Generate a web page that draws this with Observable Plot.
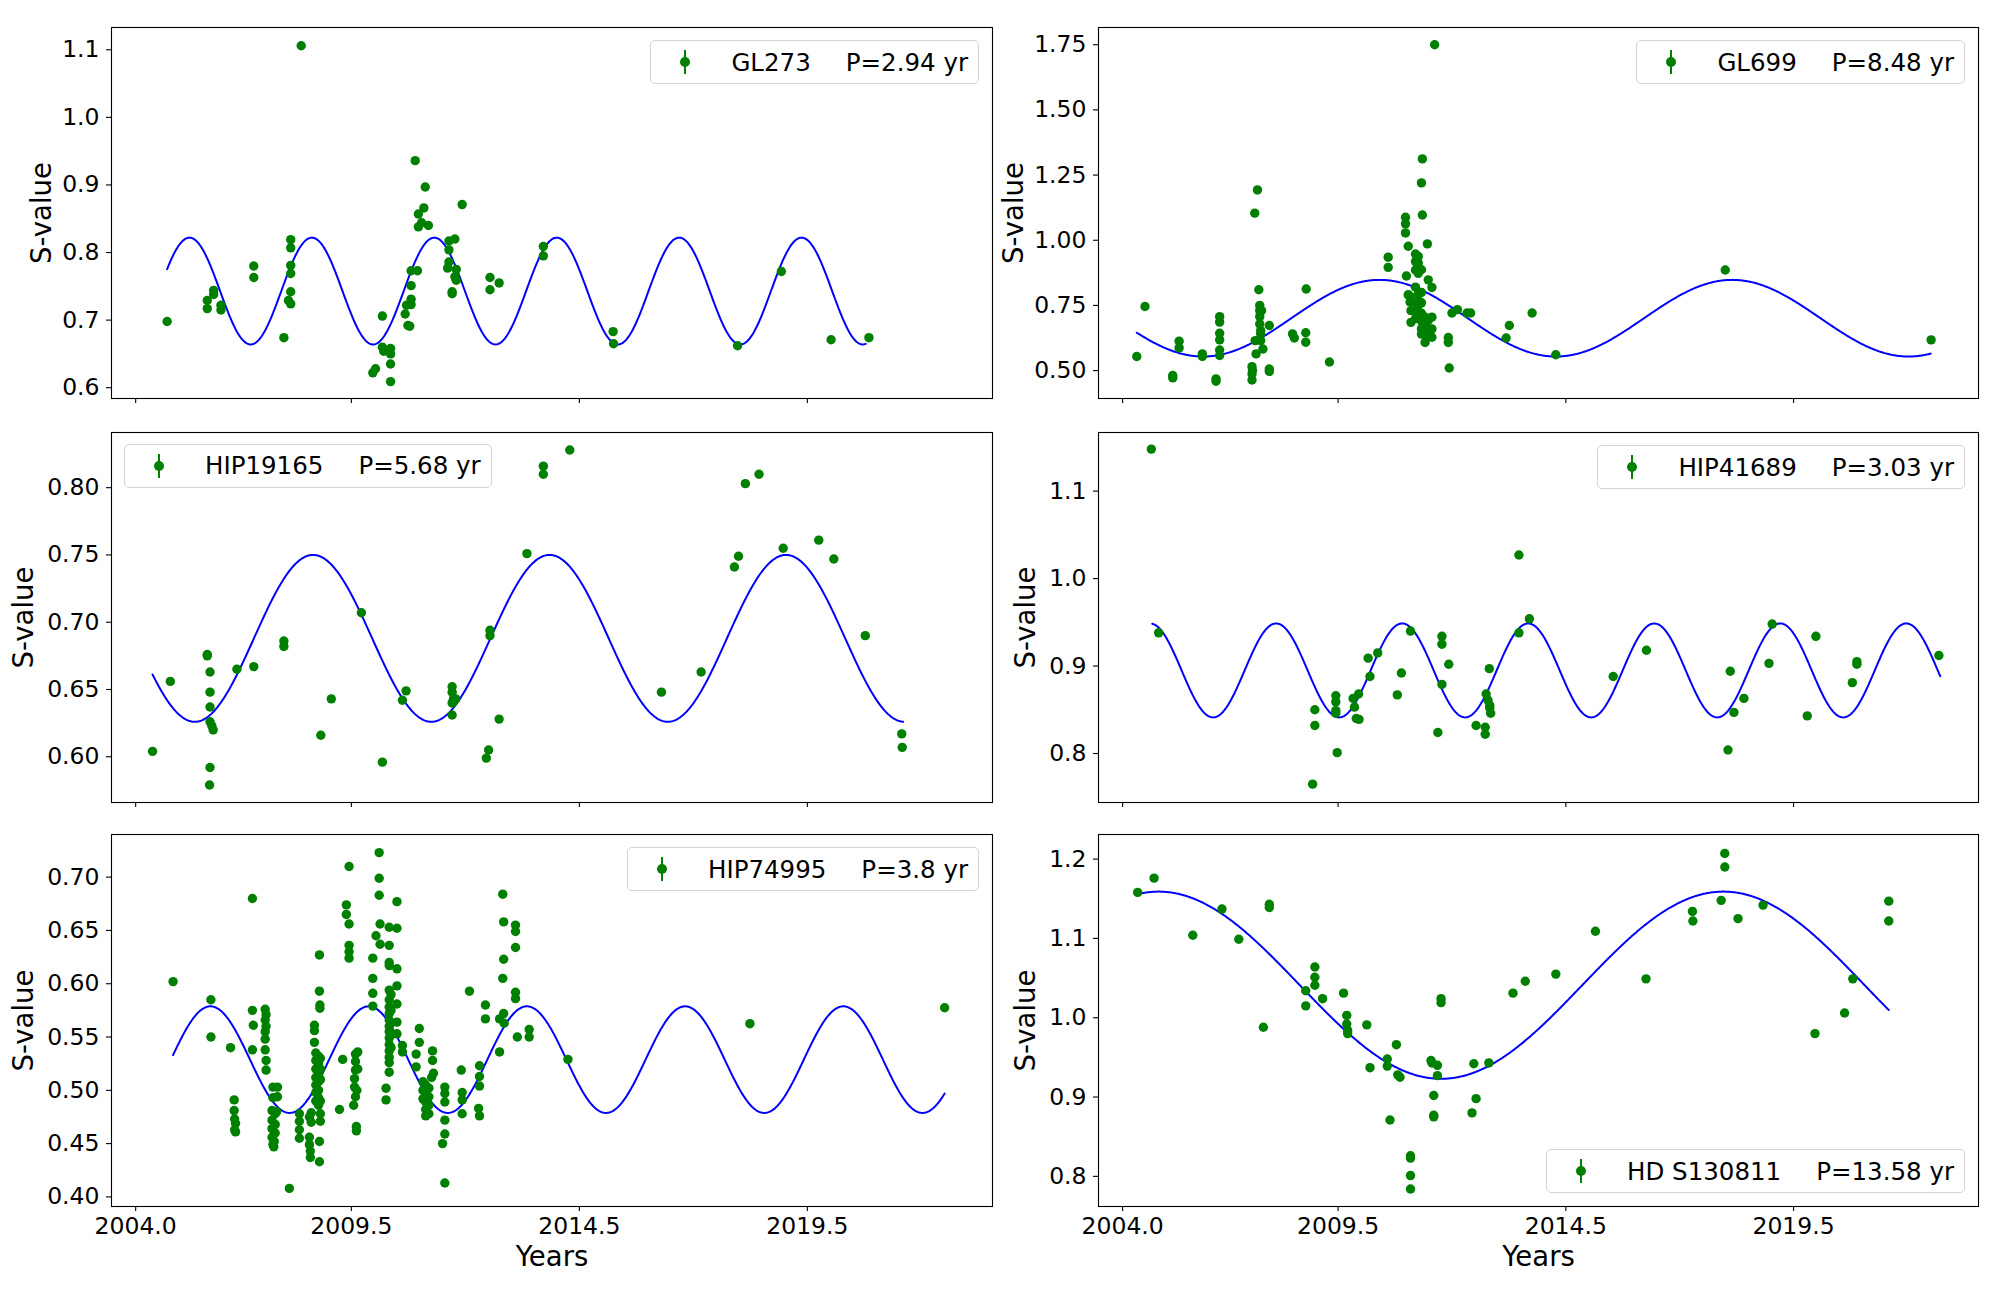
<!DOCTYPE html>
<html><head><meta charset="utf-8">
<script src="https://cdn.jsdelivr.net/npm/d3@7"></script>
<script src="https://cdn.jsdelivr.net/npm/@observablehq/plot@0.6"></script>
<style>
body{margin:0;background:#fff;font-family:"DejaVu Sans",sans-serif;}
#fig{position:relative;width:2000px;height:1300px;background:#fff;overflow:hidden}
.panel{position:absolute}
.panel svg{overflow:visible}
.legend{position:absolute;box-sizing:border-box;height:44px;border:1.3px solid #d4d4d4;border-radius:5px;background:rgba(255,255,255,0.8);display:flex;align-items:center;font-size:24.5px;white-space:nowrap;color:#000;font-family:"DejaVu Sans",sans-serif}
</style></head><body><div id="fig"></div><script>
// ---- data: [time (axis years), S-value] ----
const gl273 = [[2005.46,0.698],[2006.34,0.729],[2006.34,0.717],[2006.48,0.744],[2006.48,0.738],[2006.64,0.722],[2006.64,0.715],[2007.36,0.780],[2007.36,0.763],[2008.02,0.674],[2008.17,0.819],[2008.17,0.807],[2008.17,0.781],[2008.17,0.769],[2008.17,0.742],[2008.17,0.724],[2008.12,0.729],[2008.40,1.106],[2009.97,0.622],[2010.03,0.628],[2010.18,0.706],[2010.18,0.660],[2010.21,0.654],[2010.36,0.658],[2010.36,0.650],[2010.36,0.635],[2010.36,0.609],[2010.68,0.709],[2010.71,0.722],[2010.74,0.692],[2010.78,0.691],[2010.81,0.723],[2010.81,0.731],[2010.81,0.751],[2010.81,0.773],[2010.95,0.773],[2010.90,0.936],[2010.97,0.857],[2010.97,0.838],[2011.04,0.844],[2011.09,0.866],[2011.12,0.897],[2011.19,0.840],[2011.64,0.817],[2011.64,0.804],[2011.64,0.786],[2011.61,0.777],[2011.71,0.742],[2011.71,0.739],[2011.77,0.820],[2011.77,0.764],[2011.80,0.775],[2011.80,0.759],[2011.93,0.871],[2012.54,0.763],[2012.54,0.745],[2012.74,0.755],[2013.71,0.809],[2013.71,0.795],[2015.24,0.683],[2015.25,0.665],[2017.97,0.662],[2018.93,0.772],[2020.02,0.671],[2020.85,0.674]];

const gl699 = [[2005.08,0.554],[2005.26,0.746],[2005.87,0.481],[2005.87,0.472],[2006.01,0.613],[2006.01,0.587],[2006.52,0.564],[2006.52,0.554],[2006.82,0.468],[2006.82,0.459],[2006.90,0.707],[2006.90,0.686],[2006.90,0.643],[2006.90,0.618],[2006.90,0.579],[2006.90,0.558],[2007.61,0.515],[2007.61,0.487],[2007.61,0.464],[2007.62,0.500],[2007.67,1.104],[2007.73,1.193],[2007.70,0.564],[2007.68,0.615],[2007.76,0.810],[2007.78,0.750],[2007.78,0.730],[2007.78,0.707],[2007.78,0.679],[2007.80,0.654],[2007.80,0.641],[2007.80,0.615],[2007.82,0.730],[2007.85,0.583],[2007.99,0.673],[2007.99,0.506],[2007.99,0.497],[2008.50,0.641],[2008.54,0.625],[2008.79,0.645],[2008.79,0.609],[2008.80,0.813],[2009.31,0.533],[2010.60,0.935],[2010.60,0.896],[2010.98,1.088],[2010.98,1.063],[2010.98,1.028],[2011.04,0.977],[2011.04,0.791],[2011.00,0.863],[2011.05,0.789],[2011.08,0.784],[2011.08,0.763],[2011.10,0.685],[2011.10,0.730],[2011.20,0.947],[2011.20,0.918],[2011.20,0.886],[2011.20,0.820],[2011.20,0.761],[2011.20,0.730],[2011.20,0.700],[2011.26,0.938],[2011.26,0.913],[2011.26,0.873],[2011.26,0.794],[2011.26,0.770],[2011.26,0.750],[2011.26,0.720],[2011.33,1.220],[2011.33,0.887],[2011.33,0.800],[2011.33,0.760],[2011.33,0.720],[2011.33,0.690],[2011.33,0.660],[2011.33,0.640],[2011.35,1.312],[2011.35,1.097],[2011.41,0.608],[2011.41,0.650],[2011.41,0.680],[2011.41,0.705],[2011.46,0.986],[2011.46,0.700],[2011.46,0.640],[2011.46,0.630],[2011.48,0.848],[2011.48,0.692],[2011.48,0.637],[2011.56,0.819],[2011.56,0.705],[2011.56,0.628],[2011.56,0.660],[2011.62,1.750],[2011.92,0.608],[2011.92,0.627],[2011.94,0.510],[2012.00,0.721],[2012.12,0.734],[2012.33,0.721],[2012.41,0.721],[2013.19,0.625],[2013.26,0.673],[2013.76,0.721],[2014.28,0.561],[2018.00,0.886],[2022.52,0.618]];

const hip19165 = [[2005.14,0.604],[2005.53,0.656],[2006.34,0.676],[2006.34,0.675],[2006.40,0.663],[2006.40,0.648],[2006.40,0.637],[2006.40,0.626],[2006.44,0.623],[2006.47,0.620],[2006.40,0.592],[2006.39,0.579],[2006.99,0.665],[2007.36,0.667],[2008.02,0.686],[2008.02,0.682],[2008.83,0.616],[2009.06,0.643],[2009.72,0.707],[2010.18,0.596],[2010.62,0.642],[2010.70,0.649],[2011.71,0.652],[2011.71,0.648],[2011.74,0.643],[2011.71,0.640],[2011.74,0.641],[2011.79,0.643],[2011.71,0.631],[2012.46,0.599],[2012.51,0.605],[2012.54,0.694],[2012.54,0.690],[2012.74,0.628],[2013.35,0.751],[2013.71,0.816],[2013.71,0.810],[2014.29,0.828],[2016.30,0.648],[2017.17,0.663],[2017.90,0.741],[2017.99,0.749],[2018.14,0.803],[2018.44,0.810],[2018.97,0.755],[2019.75,0.761],[2020.08,0.747],[2020.77,0.690],[2021.57,0.617],[2021.58,0.607]];

const hip41689 = [[2005.40,1.148],[2005.56,0.938],[2008.94,0.765],[2008.99,0.850],[2008.99,0.832],[2009.45,0.866],[2009.45,0.859],[2009.45,0.849],[2009.45,0.846],[2009.48,0.801],[2009.83,0.863],[2009.86,0.853],[2009.90,0.840],[2009.95,0.868],[2009.96,0.839],[2010.16,0.909],[2010.20,0.888],[2010.37,0.915],[2010.80,0.867],[2010.89,0.892],[2011.09,0.940],[2011.69,0.824],[2011.78,0.934],[2011.78,0.925],[2011.78,0.879],[2011.93,0.902],[2012.53,0.832],[2012.73,0.830],[2012.73,0.822],[2012.75,0.868],[2012.79,0.861],[2012.83,0.852],[2012.83,0.855],[2012.82,0.897],[2012.85,0.846],[2013.47,1.027],[2013.47,0.938],[2013.70,0.954],[2015.54,0.888],[2016.27,0.918],[2018.06,0.804],[2018.11,0.894],[2018.19,0.847],[2018.41,0.863],[2018.96,0.903],[2019.03,0.948],[2019.80,0.843],[2019.99,0.934],[2020.79,0.881],[2020.89,0.905],[2020.89,0.902],[2022.69,0.912]];

const hip74995 = [[2005.59,0.602],[2006.42,0.585],[2006.42,0.550],[2006.85,0.540],[2006.93,0.491],[2006.93,0.481],[2006.94,0.473],[2006.94,0.463],[2006.96,0.469],[2006.96,0.461],[2007.33,0.680],[2007.33,0.575],[2007.35,0.561],[2007.33,0.538],[2007.61,0.576],[2007.61,0.566],[2007.61,0.555],[2007.61,0.548],[2007.61,0.538],[2007.63,0.528],[2007.63,0.519],[2007.63,0.571],[2007.63,0.560],[2007.78,0.503],[2007.78,0.493],[2007.76,0.481],[2007.76,0.472],[2007.76,0.464],[2007.76,0.456],[2007.78,0.449],[2007.83,0.478],[2007.83,0.468],[2007.83,0.460],[2007.81,0.452],[2007.80,0.447],[2007.88,0.503],[2007.88,0.494],[2007.86,0.480],[2008.14,0.408],[2008.36,0.478],[2008.36,0.471],[2008.36,0.463],[2008.36,0.455],[2008.58,0.475],[2008.58,0.456],[2008.58,0.449],[2008.60,0.443],[2008.60,0.437],[2008.62,0.479],[2008.62,0.470],[2008.69,0.561],[2008.69,0.556],[2008.69,0.545],[2008.72,0.535],[2008.72,0.528],[2008.72,0.520],[2008.72,0.512],[2008.72,0.505],[2008.72,0.498],[2008.72,0.490],[2008.78,0.532],[2008.78,0.525],[2008.78,0.515],[2008.78,0.508],[2008.78,0.500],[2008.78,0.493],[2008.78,0.486],[2008.80,0.627],[2008.80,0.593],[2008.81,0.580],[2008.81,0.577],[2008.82,0.530],[2008.82,0.520],[2008.82,0.510],[2008.82,0.490],[2008.82,0.478],[2008.82,0.471],[2008.80,0.452],[2008.80,0.433],[2009.24,0.482],[2009.31,0.529],[2009.39,0.674],[2009.39,0.665],[2009.45,0.656],[2009.45,0.710],[2009.45,0.636],[2009.45,0.630],[2009.45,0.624],[2009.59,0.534],[2009.59,0.527],[2009.59,0.519],[2009.57,0.511],[2009.57,0.503],[2009.59,0.494],[2009.55,0.486],[2009.61,0.466],[2009.61,0.462],[2009.64,0.536],[2009.64,0.520],[2009.62,0.500],[2009.97,0.624],[2009.97,0.605],[2009.97,0.591],[2009.97,0.579],[2010.04,0.645],[2010.11,0.723],[2010.11,0.699],[2010.11,0.683],[2010.13,0.656],[2010.13,0.637],[2010.26,0.502],[2010.26,0.491],[2010.33,0.653],[2010.33,0.636],[2010.33,0.620],[2010.33,0.617],[2010.33,0.594],[2010.33,0.585],[2010.33,0.578],[2010.33,0.572],[2010.33,0.566],[2010.33,0.560],[2010.33,0.555],[2010.33,0.549],[2010.33,0.543],[2010.33,0.537],[2010.33,0.531],[2010.33,0.526],[2010.33,0.517],[2010.37,0.590],[2010.37,0.575],[2010.37,0.563],[2010.37,0.552],[2010.37,0.540],[2010.50,0.677],[2010.50,0.652],[2010.50,0.614],[2010.50,0.598],[2010.50,0.581],[2010.50,0.564],[2010.50,0.553],[2010.62,0.542],[2010.62,0.536],[2010.99,0.558],[2010.99,0.545],[2010.92,0.534],[2010.92,0.522],[2011.07,0.508],[2011.07,0.500],[2011.07,0.492],[2011.13,0.505],[2011.13,0.497],[2011.13,0.489],[2011.13,0.482],[2011.13,0.476],[2011.20,0.502],[2011.20,0.494],[2011.20,0.486],[2011.20,0.478],[2011.28,0.537],[2011.28,0.528],[2011.30,0.516],[2011.26,0.512],[2011.50,0.450],[2011.55,0.413],[2011.55,0.503],[2011.55,0.497],[2011.55,0.489],[2011.55,0.472],[2011.55,0.459],[2011.91,0.519],[2011.93,0.498],[2011.93,0.491],[2011.93,0.478],[2012.09,0.593],[2012.31,0.523],[2012.31,0.513],[2012.31,0.504],[2012.29,0.483],[2012.31,0.476],[2012.44,0.580],[2012.44,0.567],[2012.75,0.536],[2012.75,0.567],[2012.82,0.684],[2012.84,0.658],[2012.84,0.623],[2012.82,0.605],[2012.84,0.572],[2012.85,0.563],[2013.10,0.655],[2013.10,0.649],[2013.10,0.634],[2013.10,0.592],[2013.10,0.586],[2013.14,0.550],[2013.40,0.557],[2013.40,0.550],[2014.25,0.529],[2018.24,0.5625],[2022.51,0.5775]];

const hds130811 = [[2005.10,1.158],[2005.46,1.176],[2006.31,1.104],[2006.95,1.137],[2007.32,1.099],[2007.86,0.988],[2007.99,1.143],[2007.99,1.139],[2008.79,1.034],[2008.79,1.015],[2008.99,1.064],[2008.99,1.051],[2008.99,1.041],[2009.16,1.024],[2009.62,1.031],[2009.69,1.003],[2009.69,0.992],[2009.71,0.984],[2009.71,0.980],[2010.13,0.991],[2010.20,0.937],[2010.58,0.948],[2010.58,0.939],[2010.64,0.871],[2010.78,0.966],[2010.81,0.928],[2010.86,0.925],[2011.09,0.826],[2011.09,0.823],[2011.09,0.801],[2011.09,0.784],[2011.54,0.946],[2011.56,0.943],[2011.60,0.902],[2011.60,0.877],[2011.60,0.875],[2011.68,0.940],[2011.68,0.927],[2011.76,1.024],[2011.76,1.019],[2012.44,0.880],[2012.48,0.942],[2012.53,0.898],[2012.81,0.943],[2013.34,1.031],[2013.61,1.046],[2014.28,1.055],[2015.15,1.109],[2016.26,1.049],[2017.28,1.134],[2017.29,1.122],[2017.91,1.148],[2017.99,1.207],[2017.99,1.190],[2018.28,1.125],[2018.83,1.142],[2019.97,0.980],[2020.62,1.006],[2020.80,1.049],[2021.59,1.147],[2021.59,1.122]];

// ---- sinusoidal fits: [period (yr), mean, amplitude, epoch of a maximum, first t, last t] ----
const fitGL273    = [2.94, 0.743, 0.079, 2005.95, 2005.46, 2020.78];
const fitGL699    = [8.48, 0.701, 0.147, 2010.41, 2005.08, 2022.51];
const fitHIP19165 = [5.68, 0.688, 0.062, 2008.66, 2005.14, 2021.60];
const fitHIP41689 = [3.03, 0.895, 0.0537, 2008.14, 2005.42, 2022.72];
const fitHIP74995 = [3.8, 0.5288, 0.050, 2006.41, 2005.59, 2022.51];
const fitHDS130811= [13.58, 1.041, 0.118, 2005.56, 2005.09, 2021.59];

// ---- axis ----
const xDomain = [2004.24, 2023.56];
const xTickPos = [2004.77, 2009.5, 2014.5, 2019.5];
const xTickLabels = ["2004.0", "2009.5", "2014.5", "2019.5"];
const DAYS_PER_AXIS_UNIT = 400; // labelled axis advances 5 per 2000 days

const names = ["GL273", "GL699", "HIP19165", "HIP41689", "HIP74995", "HD S130811"];
const periodLabels = ["2.94", "8.48", "5.68", "3.03", "3.8", "13.58"];
const series = [gl273, gl699, hip19165, hip41689, hip74995, hds130811];
const fits = [fitGL273, fitGL699, fitHIP19165, fitHIP41689, fitHIP74995, fitHDS130811];
const yDomains = [[0.584,1.133],[0.393,1.816],[0.566,0.841],[0.744,1.167],[0.391,0.740],[0.762,1.231]];
const yTicks = [[0.6,0.7,0.8,0.9,1.0,1.1],[0.5,0.75,1.0,1.25,1.5,1.75],[0.60,0.65,0.70,0.75,0.80],[0.8,0.9,1.0,1.1],[0.40,0.45,0.50,0.55,0.60,0.65,0.70],[0.8,0.9,1.0,1.1,1.2]];
const yFormats = [".1f",".2f",".2f",".1f",".2f",".1f"];
const legendCorner = ["top-right","top-right","top-left","top-right","top-right","bottom-right"];
const ylabelDx = [-69,-84,-87,-72,-87,-72];

const rows = [{top:0,h:420,mt:27,mb:22},{top:420,h:410,mt:12,mb:28},{top:830,h:470,mt:4,mb:94}];
const cols = [{left:0,w:1000,ml:111,mr:8},{left:1000,w:1000,ml:98,mr:22}];

const fig = document.getElementById("fig");

function fitCurve(f) {
  const [P, mean, amp, t0, ta, tb] = f;
  const Pax = P * 365.25 / DAYS_PER_AXIS_UNIT;
  const ts = d3.range(ta, tb, 0.02).concat([tb]);
  return ts.map(t => ({t, s: mean + amp * Math.cos(2 * Math.PI * (t - t0) / Pax)}));
}

for (let i = 0; i < 6; i++) {
  const r = rows[Math.floor(i / 2)], c = cols[i % 2];
  const bottom = Math.floor(i / 2) === 2;
  const plot = Plot.plot({
    width: c.w, height: r.h,
    marginTop: r.mt, marginBottom: r.mb, marginLeft: c.ml, marginRight: c.mr,
    x: {domain: xDomain},
    y: {domain: yDomains[i]},
    style: {fontFamily: "DejaVu Sans, sans-serif", fontSize: "23.5px", color: "black", background: "transparent", overflow: "visible"},
    marks: [
      Plot.axisX({ticks: xTickPos, tickFormat: d => bottom ? xTickLabels[xTickPos.indexOf(d)] : "", tickSize: 5, tickPadding: 6, label: null, fontSize: 23.5, strokeWidth: 1.1}),
      Plot.axisY({ticks: yTicks[i], tickFormat: d3.format(yFormats[i]), tickSize: 5, tickPadding: 7, label: null, fontSize: 23.5, strokeWidth: 1.1}),
      Plot.line(fitCurve(fits[i]), {x: "t", y: "s", stroke: "#0000ff", strokeWidth: 2}),
      Plot.dot(series[i], {x: d => d[0], y: d => d[1], r: 4.7, fill: "#008000"}),
      Plot.frame({stroke: "black", strokeWidth: 1.1}),
      Plot.text(["S-value"], {frameAnchor: "left", dx: ylabelDx[i], rotate: -90, textAnchor: "middle", lineAnchor: "middle", fontSize: 27.5}),
      bottom ? Plot.text(["Years"], {frameAnchor: "bottom", dy: 51, textAnchor: "middle", lineAnchor: "middle", fontSize: 27.5}) : null
    ]
  });
  const wrap = document.createElement("div");
  wrap.className = "panel";
  wrap.style.left = c.left + "px";
  wrap.style.top = r.top + "px";
  wrap.appendChild(plot);
  fig.appendChild(wrap);

  // legend
  const fx0 = c.left + c.ml, fx1 = c.left + c.w - c.mr;
  const fy0 = r.top + r.mt, fy1 = r.top + r.h - r.mb;
  const lg = document.createElement("div");
  lg.className = "legend";
  const corner = legendCorner[i];
  if (corner === "top-right") { lg.style.right = (2000 - fx1 + 13) + "px"; lg.style.top = (fy0 + 13) + "px"; }
  if (corner === "top-left") { lg.style.left = (fx0 + 13) + "px"; lg.style.top = (fy0 + 11.5) + "px"; }
  if (corner === "bottom-right") { lg.style.right = (2000 - fx1 + 13) + "px"; lg.style.bottom = (1300 - fy1 + 12.7) + "px"; }
  lg.innerHTML = `<svg width="20" height="26" style="margin-left:24px;flex:none"><line x1="10" x2="10" y1="1" y2="25" stroke="#008000" stroke-width="2"/><circle cx="10" cy="13" r="5" fill="#008000"/></svg>` +
    `<span style="margin-left:36px">${names[i]}</span><span style="margin-left:35px;margin-right:10px">P=${periodLabels[i]} yr</span>`;
  fig.appendChild(lg);
}
</script></body></html>
